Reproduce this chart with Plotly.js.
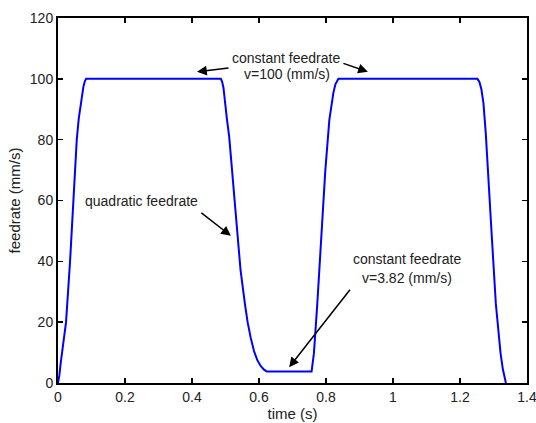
<!DOCTYPE html>
<html>
<head>
<meta charset="utf-8">
<script src="https://cdn.plot.ly/plotly-3.0.1.min.js"></script>
<style>html,body{margin:0;padding:0;background:#fff;overflow:hidden;}#chart{width:536px;height:423px;}</style>
</head>
<body>
<div id="chart"></div>
<script>
// time (s)
const timeS = [0, 0.004, 0.008, 0.016, 0.024, 0.036, 0.046, 0.056, 0.062, 0.068, 0.072, 0.076, 0.080, 0.084,
  0.486, 0.490, 0.494, 0.498, 0.504, 0.511, 0.520, 0.528, 0.536, 0.545, 0.558, 0.566, 0.575, 0.585, 0.595, 0.605, 0.615, 0.623,
  0.757, 0.760, 0.764, 0.774, 0.786, 0.798, 0.810, 0.816, 0.822, 0.828, 0.833, 0.837,
  1.252, 1.258, 1.264, 1.270, 1.277, 1.284, 1.295, 1.307, 1.314, 1.321, 1.328, 1.337];
// feedrate (mm/s)
const feedrate = [0, 2.5, 6.5, 13, 20, 40, 60, 80, 87, 92, 95.2, 97.5, 99.2, 100,
  100, 99, 97, 92, 87, 81, 70, 59, 48, 37, 26, 20, 15, 10.5, 7.5, 5.6, 4.4, 3.82,
  3.82, 6, 9.8, 26, 48, 70, 86.5, 91.5, 95.4, 98.2, 99.5, 100,
  100, 99, 96.5, 92, 82, 70, 48, 26, 17, 9.8, 4.5, 0];
const xTickStep = 0.2;
const yTickStep = 20;
const xEnd = 1.4;
const xEndLabel = "1.4";

const font = {family: "Liberation Sans, Arial, sans-serif", size: 14, color: "#222"};
const titleFont = {family: "Liberation Sans, Arial, sans-serif", size: 15, color: "#222"};
const txt = (x, y, s) => ({x: x, y: y, xref: "x", yref: "y", text: s, showarrow: false, font: font, xanchor: "center", yanchor: "middle"});
const arr = (x, y, ax, ay) => ({x: x, y: y, xref: "x", yref: "y", text: "", showarrow: true, arrowhead: 2, arrowsize: 1.3, arrowwidth: 1.5, arrowcolor: "#000", ax: ax, ay: ay, standoff: 0});

const trace = {x: timeS, y: feedrate, mode: "lines", type: "scatter", line: {color: "#0000ff", width: 2}, hoverinfo: "none"};

const axisCommon = {showgrid: false, zeroline: false, ticks: "inside", ticklen: 5, tickwidth: 1.5, tickcolor: "#000", showline: true, linecolor: "#000", linewidth: 2, mirror: "ticks", tickfont: font, ticklabeloverflow: "allow"};

const layout = {
  width: 536, height: 423,
  margin: {l: 58, r: 9, t: 18, b: 40},
  paper_bgcolor: "#fff", plot_bgcolor: "#fff",
  showlegend: false,
  xaxis: Object.assign({}, axisCommon, {range: [0, xEnd], tickmode: "linear", tick0: 0, dtick: xTickStep, automargin: false, title: {text: "time (s)", font: titleFont, standoff: 5}}),
  yaxis: Object.assign({}, axisCommon, {range: [0, 120], tickmode: "linear", tick0: 0, dtick: yTickStep, automargin: false, title: {text: "feedrate (mm/s)", font: titleFont, standoff: 6}}),
  annotations: [
    txt(0.681, 107.0, "constant feedrate"),
    txt(0.683, 101.6, "v=100 (mm/s)"),
    arr(0.415, 102.3, 33, -4),
    arr(0.925, 102.3, -26, -9),
    txt(0.248, 59.9, "quadratic feedrate"),
    arr(0.516, 48.4, -31, -24),
    txt(1.043, 40.8, "constant feedrate"),
    txt(1.043, 34.4, "v=3.82 (mm/s)"),
    arr(0.69, 5.2, 62, -79)
  ]
};

function revealEndLabel(gd) {
  let found = false;
  gd.querySelectorAll(".xtick").forEach(function (g) {
    const t = g.querySelector("text");
    if (t && t.textContent.trim() === xEndLabel) {
      found = true;
      [g, t].forEach(function (el) {
        el.style.display = "";
        el.style.opacity = "1";
        el.removeAttribute("display");
        el.setAttribute("opacity", "1");
      });
    }
  });
  return found;
}

Plotly.newPlot("chart", [trace], layout, {staticPlot: true, displayModeBar: false}).then(function (gd) {
  if (!revealEndLabel(gd)) {
    const extra = {x: xEnd, xref: "x", y: 0, yref: "paper", yanchor: "top", xanchor: "center", yshift: -4, text: xEndLabel, showarrow: false, font: font};
    return Plotly.relayout(gd, {annotations: layout.annotations.concat([extra])});
  }
});
</script>
</body>
</html>
